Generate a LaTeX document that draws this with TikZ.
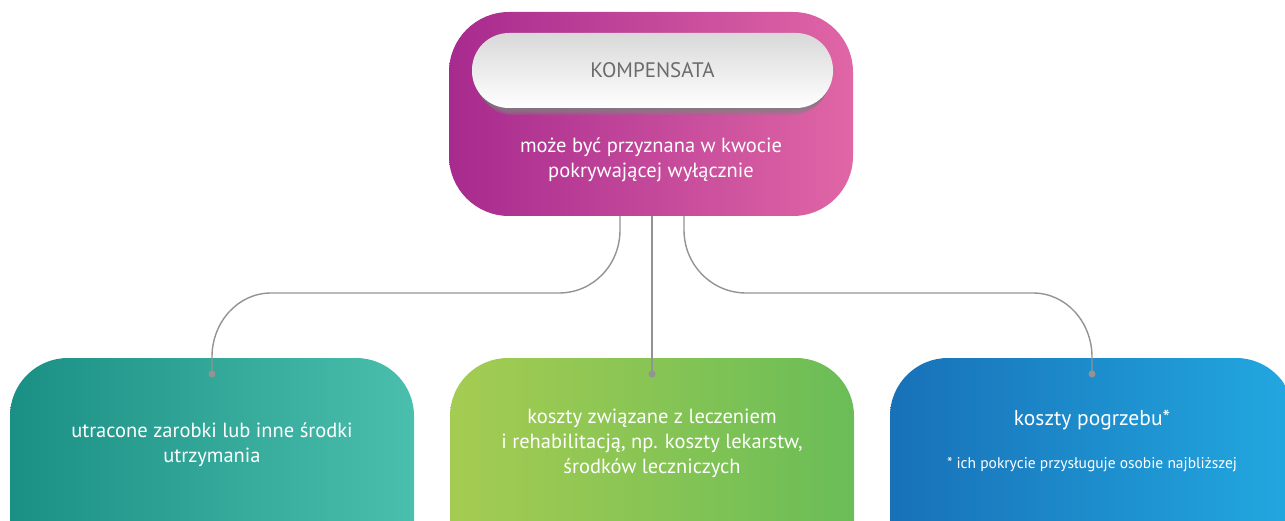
\documentclass[tikz,border=0pt]{standalone}
\usepackage{fontspec}
\setmainfont{PT Sans}
\usetikzlibrary{positioning}

\definecolor{plum}{HTML}{A72A8E}
\definecolor{rose}{HTML}{E066A6}
\definecolor{tealdark}{HTML}{1A8F84}
\definecolor{teallight}{HTML}{4BBFAD}
\definecolor{limelight}{HTML}{A5CC52}
\definecolor{limedark}{HTML}{6ABD57}
\definecolor{bluedark}{HTML}{1871B8}
\definecolor{bluelight}{HTML}{22A8E0}
\definecolor{wire}{HTML}{939393}
\definecolor{label}{HTML}{6B6B6B}
\definecolor{shade}{HTML}{3A0A30}

\begin{document}
\begin{tikzpicture}[x=1pt,y=-1pt,
  card/.style={rounded corners=58pt,minimum width=404pt,minimum height=260pt,inner sep=0pt},
  words/.style={text=white,align=center,font=\fontsize{20.5}{25}\selectfont},
  wire/.style={draw=wire,line width=1.4pt},
  knot/.style={circle,fill=wire,inner sep=0pt,minimum size=7pt}]
 \useasboundingbox (0,0) rectangle (1285,521);
 \clip (0,0) rectangle (1285,521);
 % top block
 \node[rounded corners=60pt,minimum width=404pt,minimum height=204pt,inner sep=0pt,
   left color=plum,right color=rose] (kompensata) at (651,114) {};
 % soft shadow under the pill
 \foreach \d in {1,...,8}
   \fill[shade,opacity=0.11,rounded corners=37pt]
     (472+\d*0.5,33+\d) rectangle (833-\d*0.5,108+\d*0.9);
 \node[rounded corners=37pt,minimum width=361pt,minimum height=75pt,inner sep=0pt,
   top color=black!15,bottom color=white] (pill) at (652.5,70.5) {};
 \node[text=label,font=\fontsize{21}{24}\selectfont] (title) at (pill) {KOMPENSATA};
 \node[words] (lead) at (651,160) {może być przyznana w kwocie\\pokrywającej wyłącznie};
 % bottom blocks
 \node[card,left color=tealdark,right color=teallight] (zarobki) at (212,488) {};
 \node[card,left color=limelight,right color=limedark] (leczenie) at (652,488) {};
 \node[card,left color=bluedark,right color=bluelight] (pogrzeb) at (1092,488) {};
 \node[words] (zarobkitxt) at (212,445) {utracone zarobki lub inne środki\\utrzymania};
 \node[words] (leczenietxt) at (652,443) {koszty związane z leczeniem\\i rehabilitacją, np. koszty lekarstw,\\środków leczniczych};
 \node[text=white,font=\fontsize{21.5}{24}\selectfont] (pogrzebtxt) at (1092,420) {koszty pogrzebu*};
 \node[text=white,font=\fontsize{15.5}{18}\selectfont] (przypis) at (1092,465) {* ich pokrycie przysługuje osobie najbliższej};
 % connectors
 \node[knot] (kl) at (212,374) {};
 \node[knot] (km) at (652,374) {};
 \node[knot] (kr) at (1092,374) {};
 \draw[wire] ([xshift=-31pt]kompensata.south) -- (620,230)
   .. controls (620,265) and (593,293) .. (559,293) -- (271,293)
   .. controls (238,293) and (212,322) .. (212,357) -- (kl.center);
 \draw[wire] (kompensata.south -| km) -- (km.center);
 \draw[wire] ([xshift=33pt]kompensata.south) -- (684,230)
   .. controls (684,265) and (712,293) .. (746,293) -- (1033,293)
   .. controls (1066,293) and (1092,322) .. (1092,357) -- (kr.center);
\end{tikzpicture}
\end{document}
